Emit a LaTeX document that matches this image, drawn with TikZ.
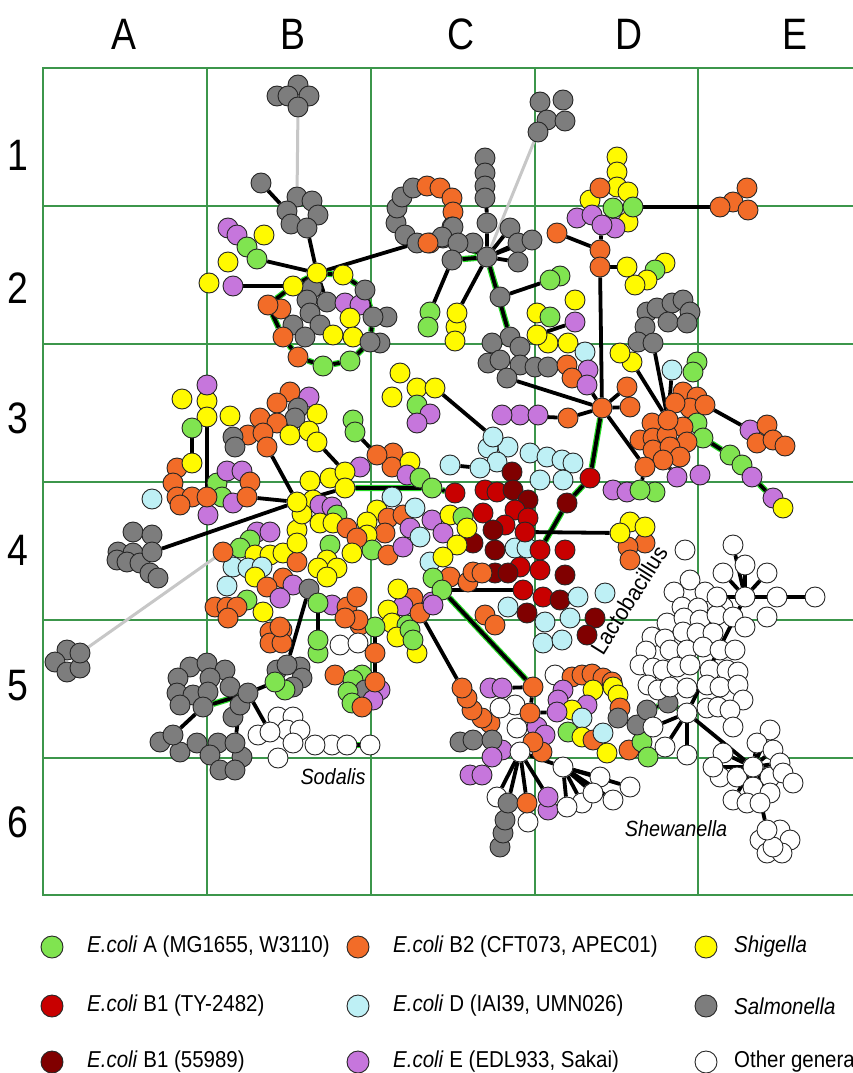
\documentclass[tikz,border=0pt]{standalone}
\usepackage{graphicx}
\usepackage{fontspec}
\setmainfont{Liberation Sans}
\pgfdeclarelayer{gridl}
\pgfdeclarelayer{edges}
\pgfsetlayers{gridl,edges,main}
\definecolor{cA}{RGB}{128,228,80}
\definecolor{cB2}{RGB}{242,108,40}
\definecolor{cSh}{RGB}{255,250,0}
\definecolor{cB1}{RGB}{200,0,0}
\definecolor{cB1d}{RGB}{128,0,0}
\definecolor{cD}{RGB}{190,240,245}
\definecolor{cE}{RGB}{198,118,220}
\definecolor{cSa}{RGB}{125,125,125}
\definecolor{cGrid}{RGB}{60,150,75}
\definecolor{cHalo}{RGB}{40,220,40}
\newcommand\vx[4]{\node[#4] (#1) at (#2,#3) {};}
\newcommand\grp[2]{\foreach \x/\y/\st [count=\i] in {#2} \node[\st] (#1-\i) at (\x,\y) {};}
\newcommand\cnd[1]{\scalebox{0.85}[1]{#1}}
\newcommand\lgt[1]{\scalebox{0.89}[1]{#1}}
\begin{document}
\begin{tikzpicture}[x=1pt,y=-1pt,
  nd/.style={circle,draw=black!85,line width=0.9pt,minimum size=20pt,inner sep=0pt},
  nA/.style={nd,fill=cA}, nO/.style={nd,fill=cB2}, nY/.style={nd,fill=cSh},
  nR/.style={nd,fill=cB1}, nK/.style={nd,fill=cB1d}, nL/.style={nd,fill=cD},
  nP/.style={nd,fill=cE}, nG/.style={nd,fill=cSa}, nW/.style={nd,fill=white},
  key/.style={minimum size=22pt},
  ed/.style={line width=3.8pt,draw=black},
  halo/.style={line width=3.8pt,draw=black,preaction={draw=cHalo,line width=6.2pt}},
  lg/.style={line width=3pt,draw=black!22},
  grd/.style={draw=cGrid,line width=1.4pt},
  lab/.style={font=\fontsize{44}{44}\selectfont,inner sep=0pt},
  legt/.style={anchor=west,font=\fontsize{23}{26}\selectfont,inner sep=0pt},
  ital/.style={font=\fontsize{22}{26}\selectfont\itshape,inner sep=0pt}]
\useasboundingbox (0,0) rectangle (852,1073);
\begin{pgfonlayer}{gridl}
\fill[white] (0,0) rectangle (852,1073);
\draw[grd] (43,68) rectangle (862,895);
\foreach \x in {207,371,535,698} \draw[grd] (\x,68) -- (\x,895);
\foreach \y in {206,344,482,620,758} \draw[grd] (43,\y) -- (862,\y);
\end{pgfonlayer}
% labels
\foreach \t/\x [count=\i] in {A/124,B/293,C/461,D/629,E/795} \node[lab] (col\i) at (\x,34) {\cnd{\t}};
\foreach \t/\y in {1/155,2/288,3/418,4/550,5/686,6/822} \node[lab] (row\t) at (18,\y) {\cnd{\t}};
% top gray
\grp{t}{298/85/nG,277/96/nG,309/96/nG,288/96/nG}
\vx{t0}{298}{107}{nG}
% B2 gray
\vx{b2s}{261}{183}{nG}
\vx{b2t}{297}{197}{nG}
\grp{bg}{312/201/nG,287/211/nG,318/215/nG,291/224/nG}
\vx{b2g}{307}{228}{nG}
\grp{bl}{228/228/nP,237/235/nP,264/235/nY,247/247/nA,228/262/nY,209/283/nY}
\vx{b2gr}{257}{259}{nA}
\vx{b2p}{233}{286}{nP}
\grp{bm}{312/288/nG,307/300/nG,327/302/nG,345/303/nP,360/305/nP,310/313/nG,293/325/nG,320/325/nG,281/309/nO,305/337/nG,350/318/nY,333/335/nY,353/337/nY,387/317/nG,380/343/nG}
\vx{y1}{317}{273}{nY}
\vx{y2}{343}{275}{nY}
\vx{y3}{293}{286}{nY}
\vx{b2h}{365}{290}{nG}
\vx{b2o1}{268}{305}{nO}
\vx{b2o3}{283}{337}{nO}
\vx{b2g7}{373}{317}{nG}
\vx{b2g5}{370}{342}{nG}
\vx{b2o}{298}{357}{nO}
\vx{b2a1}{323}{366}{nA}
\vx{b2a2}{350}{361}{nA}
% ring C2
\grp{rg}{396/223/nG,397/208/nG,402/197/nG,413/188/nG,427/186/nO,440/188/nO,452/198/nO,453/212/nO,452/227/nG,405/235/nG,430/243/nO}
\vx{r1}{417}{243}{nG}
\vx{r2}{443}{238}{nG}
% C2 hub
\grp{col}{485/158/nG,485/173/nG,485/186/nG,485/198/nG}
\vx{h2u}{487}{223}{nG}
\grp{hg}{453/227/nG,442/237/nG,428/243/nO,473/243/nG}
\vx{r3}{458}{243}{nG}
\vx{h2a}{510}{228}{nG}
\vx{h2b}{518}{243}{nG}
\vx{h2c}{532}{240}{nG}
\vx{h2d}{518}{262}{nG}
\vx{h2l}{452}{260}{nG}
\vx{h2}{487}{257}{nG}
\grp{tgc}{540/102/nG,563/100/nG,547/120/nG,565/121/nG}
\vx{tg}{538}{132}{nG}
\vx{c2a1}{430}{312}{nA}
\grp{cb}{428/327/nA,456/327/nY,455/341/nY}
\vx{c2y}{457}{313}{nY}
\vx{c2g}{500}{297}{nG}
\grp{cga}{560/276/nA}
\vx{c2ga}{550}{280}{nA}
\vx{c3g}{510}{337}{nG}
\grp{c3c}{492/343/nG,520/347/nG,488/363/nG,500/360/nG,520/365/nG,535/367/nG,548/367/nG}
\vx{c3gb}{507}{378}{nG}
\grp{cy}{537/313/nY,550/317/nA,575/300/nY,548/343/nY,568/343/nY,585/352/nL,567/365/nO,588/370/nP,572/378/nO}
\vx{c2p}{575}{322}{nP}
\vx{c2yb}{537}{335}{nY}
\vx{c2pp}{587}{385}{nP}
% D top
\grp{d1}{617/157/nY,617/172/nY,617/187/nY,628/192/nY,590/200/nY,600/188/nO,628/222/nY,577/218/nP,592/215/nP,615/228/nP,613/208/nA}
\vx{d1p}{602}{225}{nP}
\vx{d1g}{633}{207}{nA}
\grp{e2}{733/202/nO,747/188/nO,748/210/nO}
\vx{e2o}{720}{207}{nO}
\vx{d2o1}{557}{233}{nO}
\vx{d2o2}{600}{250}{nO}
\vx{d2o3}{600}{267}{nO}
\grp{d2}{665/263/nY,655/270/nA,647/280/nY,635/285/nY}
\vx{d2y}{627}{267}{nY}
\grp{dgc}{647/312/nG,657/308/nG,672/303/nG,683/300/nG,690/312/nG,668/322/nG,687/323/nG,645/327/nG,638/342/nG}
\vx{dg}{653}{343}{nG}
% D3
\vx{d3y}{632}{362}{nY}
\grp{d3t}{620/353/nY,697/362/nA,693/372/nA}
\vx{d3lb}{672}{370}{nL}
\grp{d3a}{683/392/nO,697/397/nO,690/408/nO,675/403/nO,697/423/nA}
\vx{d3r}{705}{405}{nO}
\vx{e3a}{703}{438}{nA}
\grp{d3b2}{652/423/nO,683/427/nO,640/440/nO,653/438/nO,667/435/nO,687/442/nO,653/450/nO,670/447/nO,680/457/nO}
\vx{d3m}{668}{420}{nO}
\vx{d3b}{663}{460}{nO}
\vx{d3c}{645}{467}{nO}
\vx{d3h}{602}{408}{nO}
\vx{d3o}{568}{418}{nO}
\grp{d3pc}{520/415/nP,538/415/nP}
\vx{d3p1}{502}{415}{nP}
\vx{d3o2}{630}{407}{nO}
\vx{d3o3}{627}{387}{nO}
\vx{e3p}{750}{430}{nP}
\grp{e3o}{767/425/nO,757/443/nO,773/440/nO,785/446/nO}
\vx{e3a2}{730}{455}{nA}
\vx{e3a3}{742}{465}{nA}
\vx{e3p2}{752}{477}{nP}
\vx{e3p3}{773}{498}{nP}
\vx{e3y}{783}{508}{nY}
\grp{d3q}{700/475/nP}
\vx{d3pp}{677}{477}{nP}
\grp{d3rr}{613/490/nP,627/492/nP,655/492/nA}
\vx{d3g}{640}{490}{nA}
% C3 yellow
\grp{c3yc}{400/373/nY,392/397/nY,417/388/nY,417/405/nA,430/414/nP,417/423/nP}
\vx{c3y}{435}{388}{nY}
% light blue
\grp{lb}{508/447/nL,488/448/nL,497/462/nL,530/453/nL,547/457/nL,562/460/nL,573/463/nL,540/480/nL,563/480/nL}
\vx{c3l}{493}{437}{nL}
\vx{c4l}{480}{468}{nL}
\vx{c4l0}{450}{465}{nL}
% red region
\grp{rd}{512/472/nK,485/490/nR,497/492/nR,513/490/nK,528/500/nK,515/510/nR,483/513/nR,528/518/nR,505/525/nR,493/530/nK,473/543/nK,495/550/nK,515/548/nL,527/548/nL,565/550/nR,520/567/nR,495/573/nK,508/573/nK,540/570/nR,565/575/nK,543/597/nR,560/600/nK,578/597/nL,605/593/nL,508/607/nL,527/613/nK,545/622/nL,570/618/nL,543/643/nL,562/640/nL,595/618/nK,587/635/nK}
\vx{c4rr}{523}{590}{nR}
\vx{c4r2}{525}{532}{nR}
\vx{c4r1}{540}{550}{nR}
\vx{d4k}{567}{503}{nK}
\vx{d4r}{590}{478}{nR}
\vx{c4r}{455}{493}{nR}
\grp{d4}{645/543/nO,628/547/nO,630/560/nO,630/522/nY,645/527/nY}
\vx{d4y}{620}{533}{nY}
% B3 left
\grp{b3l}{182/399/nY,207/401/nY,207/385/nP,230/416/nY,177/468/nO,173/483/nO,177/497/nO,192/497/nO,180/505/nO,208/515/nP,152/499/nL,217/483/nA,227/471/nP,242/471/nP,250/482/nO,222/497/nA,233/503/nP}
\vx{b3y1}{207}{417}{nY}
\vx{b3g}{192}{428}{nA}
\vx{b3y2}{192}{463}{nY}
\vx{b3o1}{207}{497}{nO}
\vx{b3o2}{247}{497}{nO}
\grp{b3u}{290/392/nO,309/397/nP,277/403/nO,298/408/nG,295/418/nG,317/414/nY,260/418/nO,277/423/nO,248/435/nO,263/433/nO,233/437/nG,235/447/nG,290/435/nY,309/431/nY}
\vx{b3o3}{267}{447}{nO}
\vx{b3y3}{317}{442}{nY}
\grp{b3gg}{353/420/nA}
\vx{b3g2}{355}{432}{nA}
% B4 / C4
\grp{b4u}{310/481/nY,330/478/nY,360/467/nP,393/453/nO,392/467/nO,410/462/nY,407/475/nP,420/478/nA}
\vx{c4o1}{377}{455}{nO}
\vx{c4a}{432}{488}{nA}
\vx{b4y1}{345}{472}{nY}
\vx{b4y2}{345}{488}{nY}
\grp{c4b}{392/497/nL,377/510/nY,367/522/nY,388/518/nO,403/515/nO,415/508/nL,432/520/nP,450/515/nY,463/517/nA,467/528/nY,443/533/nP,410/528/nP,385/533/nO,420/537/nL,367/535/nY,457/545/nY,430/562/nL,443/557/nY,372/550/nA,388/555/nO,403/547/nP,450/577/nO,468/582/nO,473/572/nO,482/573/nO,433/578/nA,432/602/nP,413/598/nO,403/606/nP,398/589/nY,388/610/nY,392/623/nY,485/615/nO,495/625/nO,407/625/nA}
\vx{c4g}{442}{590}{nA}
\vx{c4o}{420}{613}{nO}
\grp{b4l}{270/632/nO,282/630/nO,270/643/nO,282/643/nO,360/625/nO,397/637/nY,417/653/nY,410/630/nA,413/640/nA,433/605/nP}
\vx{b4a2}{375}{627}{nA}
\grp{b4h}{257/532/nP,270/532/nP,250/540/nA,240/548/nA,255/555/nY,270/555/nY,283/553/nY,233/567/nL,248/568/nL,262/567/nL,227/586/nL,255/577/nY,297/562/nO,283/578/nO,267/587/nO,293/585/nP,280/598/nP,247/600/nA,215/607/nO,227/607/nO,237/607/nO,228/618/nO,263/612/nY,280/627/nO,332/605/nP,347/607/nO,357/597/nO,358/620/nO,345/618/nO}
\vx{b4o}{223}{552}{nO}
\vx{b4g}{309}{589}{nG}
\vx{b4a}{318}{603}{nA}
\grp{b4c}{313/500/nY,320/505/nP,332/507/nP,337/515/nA,320/523/nY,333/523/nY,347/528/nO,357/538/nO,297/530/nY,297/543/nY,330/545/nA,352/553/nY,327/560/nY,318/568/nY,337/568/nY,327/577/nY,302/514/nY}
\vx{hub}{297}{502}{nY}
% C5
\grp{c5a}{490/723/nO,482/718/nO,472/710/nO,467/698/nO,490/688/nP}
\vx{c5oc}{462}{688}{nO}
\vx{c5pa}{502}{688}{nP}
\grp{c5b}{555/675/nW,515/705/nW,500/708/nW,517/728/nW,460/742/nG,473/740/nG,537/727/nP,545/735/nP,542/752/nO,502/750/nP,470/775/nP,482/775/nP}
\vx{c5o}{533}{687}{nO}
\vx{c5o2}{530}{713}{nO}
\vx{c5o3}{533}{742}{nO}
\vx{c5gg}{492}{740}{nG}
\vx{c5p}{492}{757}{nP}
\vx{c5w}{520}{752}{nW}
\grp{c5d}{500/847/nG,503/833/nG,505/820/nG,528/822/nW,548/810/nP}
\vx{c5w3}{497}{797}{nW}
\vx{c5gy}{508}{803}{nG}
\vx{c5o4}{527}{803}{nO}
\vx{c5p2}{548}{797}{nP}
\grp{c5e}{600/777/nW,630/787/nW,613/800/nW,582/803/nW,567/807/nW,593/793/nW}
\vx{c5w2}{563}{767}{nW}
\grp{c5r}{572/677/nO,582/675/nO,592/674/nO,603/678/nO,612/682/nO,613/687/nY,618/695/nY,620/708/nO,563/690/nP,558/700/nP,593/690/nY,587/705/nP,572/710/nY,582/718/nL,568/732/nA,582/737/nY,593/740/nO,603/733/nL,607/753/nY,629/750/nO,642/742/nA,648/757/nA,618/718/nG}
\vx{c5p3}{557}{712}{nP}
\vx{c5g1}{637}{725}{nG}
\vx{c5g2}{647}{710}{nG}
\vx{c5g3}{668}{703}{nG}
% Lactobacillus
\grp{lw}{685/550/nW,690/580/nW,674/592/nW,705/592/nW,682/607/nW,698/608/nW,723/607/nW,667/623/nW,684/618/nW,700/620/nW,717/615/nW,733/617/nW,745/627/nW,767/617/nW,652/637/nW,665/639/nW,683/632/nW,697/633/nW,713/633/nW,646/651/nW,670/650/nW,687/650/nW,703/647/nW,720/650/nW,735/650/nW,640/665/nW,653/668/nW,663/670/nW,677/667/nW,690/665/nW,710/670/nW,727/670/nW,738/672/nW,648/685/nW,658/690/nW,670/687/nW,687/688/nW,707/685/nW,720/687/nW,738/685/nW,743/700/nW,707/708/nW,718/707/nW,730/710/nW,733/727/nW}
\grp{lsp}{733/545/nW,745/565/nW,723/573/nW,767/573/nW,717/597/nW}
\vx{e4w}{745}{597}{nW}
\vx{e4r1}{777}{597}{nW}
\vx{e4r2}{815}{597}{nW}
\grp{e5s}{653/727/nW,665/747/nW,687/755/nW}
\vx{e5w}{687}{713}{nW}
% Shewanella
\grp{sh}{770/730/nW,757/743/nW,773/750/nW,723/753/nW,720/777/nW,737/777/nW,753/787/nW,770/777/nW,780/763/nW,783/773/nW,793/783/nW,770/793/nW,733/800/nW,747/803/nW,760/803/nW,713/767/nW}
\vx{shw}{753}{767}{nW}
\grp{shb}{780/830/nW,760/840/nW,790/840/nW,767/853/nW,782/853/nW,773/847/nW}
\vx{shb0}{767}{830}{nW}
% B5
\grp{b5}{190/667/nG,207/663/nG,225/670/nG,178/678/nG,210/678/nG,230/687/nG,177/693/nG,193/695/nG,208/692/nG,180/705/nG,233/717/nG,160/742/nG,180/752/nG,197/743/nG,218/743/nG,210/755/nG,242/757/nG,220/770/nG,235/770/nG}
\vx{b5gc}{203}{707}{nG}
\vx{b5gd}{240}{705}{nG}
\vx{b5gh}{248}{693}{nG}
\vx{b5gl}{173}{735}{nG}
\vx{b5ge}{235}{743}{nG}
\grp{b5gx}{277/670/nG,300/667/nG,302/678/nG,293/687/nG,285/690/nA}
\vx{b5gg}{287}{665}{nG}
\vx{b5ga}{275}{682}{nA}
\grp{sod}{278/717/nW,293/717/nW,258/735/nW,287/730/nW,300/730/nW,293/743/nW,278/758/nW,332/745/nW,347/745/nW}
\vx{sw1}{270}{732}{nW}
\vx{sw2}{315}{745}{nW}
\vx{sw3}{370}{745}{nW}
\grp{b5r}{318/653/nA,340/645/nW,358/643/nW,335/675/nO,362/675/nA,353/680/nA,365/690/nG,348/692/nA,380/690/nP,373/700/nP,352/703/nA,362/707/nO}
\vx{b5a}{318}{640}{nA}
\vx{b5o}{375}{653}{nO}
\vx{b5o2}{375}{682}{nO}
% A4, A5
\grp{a4c}{133/532/nG,152/535/nG,118/552/nG,133/553/nG,117/560/nG,127/562/nG,140/563/nG,150/573/nG,158/578/nG}
\vx{a4}{152}{552}{nG}
\grp{a5c}{67/650/nG,55/662/nG,67/672/nG,80/668/nG}
\vx{a5}{80}{653}{nG}
% edges
\begin{pgfonlayer}{edges}
\draw[lg] (t0) -- (b2t);
\draw[lg] (tg) -- (h2);
\draw[lg] (a5) -- (b4o);
\draw[ed] (b2s) -- (bg-2);
\draw[ed] (b2g) -- (y1) -- (r1);
\draw[ed] (y1) -- (b2gr);
\draw[ed] (y3) -- (b2p);
\draw[halo] (y1) -- (y2) -- (b2h) -- (b2g7) -- (b2g5) -- (b2a2) -- (b2a1) -- (b2o) -- (b2o3) -- (b2o1) -- (y3) -- (y1);
\draw[ed] (y1) -- (bm-3);
\draw[halo] (r2) -- (r3) -- (h2);
\draw[ed] (h2) -- (h2u) -- (col-1);
\foreach \n in {h2a,h2b,h2c,h2d,c2y,c2g} \draw[ed] (h2) -- (\n);
\draw[halo] (h2) -- (h2l);
\draw[ed] (h2l) -- (c2a1);
\draw[ed] (c2g) -- (c2ga);
\draw[halo] (h2) -- (c3g);
\draw[ed] (c2yb) -- (c2p);
\draw[ed] (c3gb) -- (d3h);
\draw[ed] (c2pp) -- (d3h);
\draw[ed] (d1g) -- (e2o);
\draw[ed] (d1p) -- (d2o2);
\draw[ed] (d2o1) -- (d2o2) -- (d2o3) -- (d3h);
\draw[ed] (d2o3) -- (d2y);
\draw[ed] (d3h) -- (d3o) -- (d3p1);
\draw[ed] (d3h) -- (d3o3);
\draw[ed] (d3h) -- (d3o2);
\draw[halo] (d3h) -- (d4r) -- (d4k) -- (c4r1);
\draw[ed] (d3h) -- (d3c);
\draw[ed] (d3m) -- (dg);
\draw[ed] (d3m) -- (d3y);
\draw[ed] (d3m) -- (d3lb);
\draw[ed] (d3r) -- (e3p);
\draw[halo] (e3a) -- (e3a2) -- (e3a3) -- (e3p2) -- (e3p3) -- (e3y);
\draw[ed] (d3b) -- (d3pp);
\draw[ed] (d3c) -- (d3g);
\draw[ed] (c3y) -- (c3l);
\draw[ed] (c4l0) -- (c4l);
\draw[ed] (c4r2) -- (d4y);
\draw[ed] (b3y1) -- (b3o1);
\draw[ed] (b3g) -- (b3y2);
\draw[ed] (hub) -- (b3o3);
\draw[ed] (hub) -- (b3o2);
\draw[ed] (hub) -- (a4);
\draw[ed] (b3y3) -- (b4y1);
\draw[ed] (b3g2) -- (c4o1);
\draw[ed] (hub) -- (b4y2);
\draw[halo] (b4y2) -- (c4a) -- (c4r);
\draw[halo] (c4g) -- (c5o);
\draw[ed] (c4o) -- (c5oc);
\draw[ed] (c4g) -- (c4rr);
\draw[ed] (b4g) -- (b5gg);
\draw[ed] (b4a) -- (b5a);
\draw[ed] (b4a2) -- (b5o) -- (b5o2);
\draw[ed] (b5gh) -- (b5ga);
\draw[ed] (b5gh) -- (sw1);
\draw[halo] (b5gh) -- (b5gc);
\draw[ed] (b5gc) -- (b5gl);
\draw[ed] (b5gd) -- (b5ge);
\draw[halo] (sw2) -- (sw3);
\draw[ed] (c5o) -- (c5pa);
\draw[ed] (c5o) -- (c5o2) -- (c5o3) -- (c5w);
\draw[ed] (c5o2) -- (c5p3);
\foreach \n in {c5gg,c5p,c5w3,c5gy,c5o4,c5p2,c5w2} \draw[ed] (c5w) -- (\n);
\foreach \i in {1,...,6} \draw[ed] (c5w2) -- (c5e-\i);
\draw[halo] (c5g1) -- (c5g2) -- (c5g3) -- (e5w);
\draw[ed] (e5w) -- (e4w);
\foreach \i in {1,2,3} \draw[ed] (e5w) -- (e5s-\i);
\draw[ed] (e5w) -- (shw);
\foreach \i in {1,...,16} \draw[ed] (shw) -- (sh-\i);
\draw[ed] (shw) -- (shb0);
\draw[ed] (e4w) -- (e4r1) -- (e4r2);
\foreach \i in {1,...,5} \draw[ed] (e4w) -- (lsp-\i);
\end{pgfonlayer}
% cluster labels
\node[ital] (lsod) at (333,777) {\scalebox{0.9}[1]{Sodalis}};
\node[ital] (lshe) at (676,829) {\scalebox{0.9}[1]{Shewanella}};
\node[font=\fontsize{23}{26}\selectfont,inner sep=0pt,rotate=58] (llac) at (629,600) {\scalebox{0.93}[1]{Lactobacillus}};
% legend
\node[nA,key] (kA) at (52,947) {};
\node[legt] (tA) at (87,947) {\lgt{\textit{E.coli} A (MG1655, W3110)}};
\node[nO,key] (kB2) at (358,947) {};
\node[legt] (tB2) at (393,947) {\lgt{\textit{E.coli} B2 (CFT073, APEC01)}};
\node[nY,key] (kSh) at (706,947) {};
\node[legt] (tSh) at (734,947) {\lgt{\textit{Shigella}}};
\node[nR,key] (kB1) at (52,1006) {};
\node[legt] (tB1) at (87,1006) {\lgt{\textit{E.coli} B1 (TY-2482)}};
\node[nL,key] (kD) at (358,1006) {};
\node[legt] (tD) at (393,1006) {\lgt{\textit{E.coli} D (IAI39, UMN026)}};
\node[nG,key] (kSa) at (706,1006) {};
\node[legt] (tSa) at (734,1006) {\lgt{\textit{Salmonella}}};
\node[nK,key] (kB1d) at (52,1062) {};
\node[legt] (tB1d) at (87,1062) {\lgt{\textit{E.coli} B1 (55989)}};
\node[nP,key] (kE) at (358,1062) {};
\node[legt] (tE) at (393,1062) {\lgt{\textit{E.coli} E (EDL933, Sakai)}};
\node[nW,key] (kW) at (706,1062) {};
\node[legt] (tW) at (734,1062) {\lgt{Other genera}};
\end{tikzpicture}
\end{document}
